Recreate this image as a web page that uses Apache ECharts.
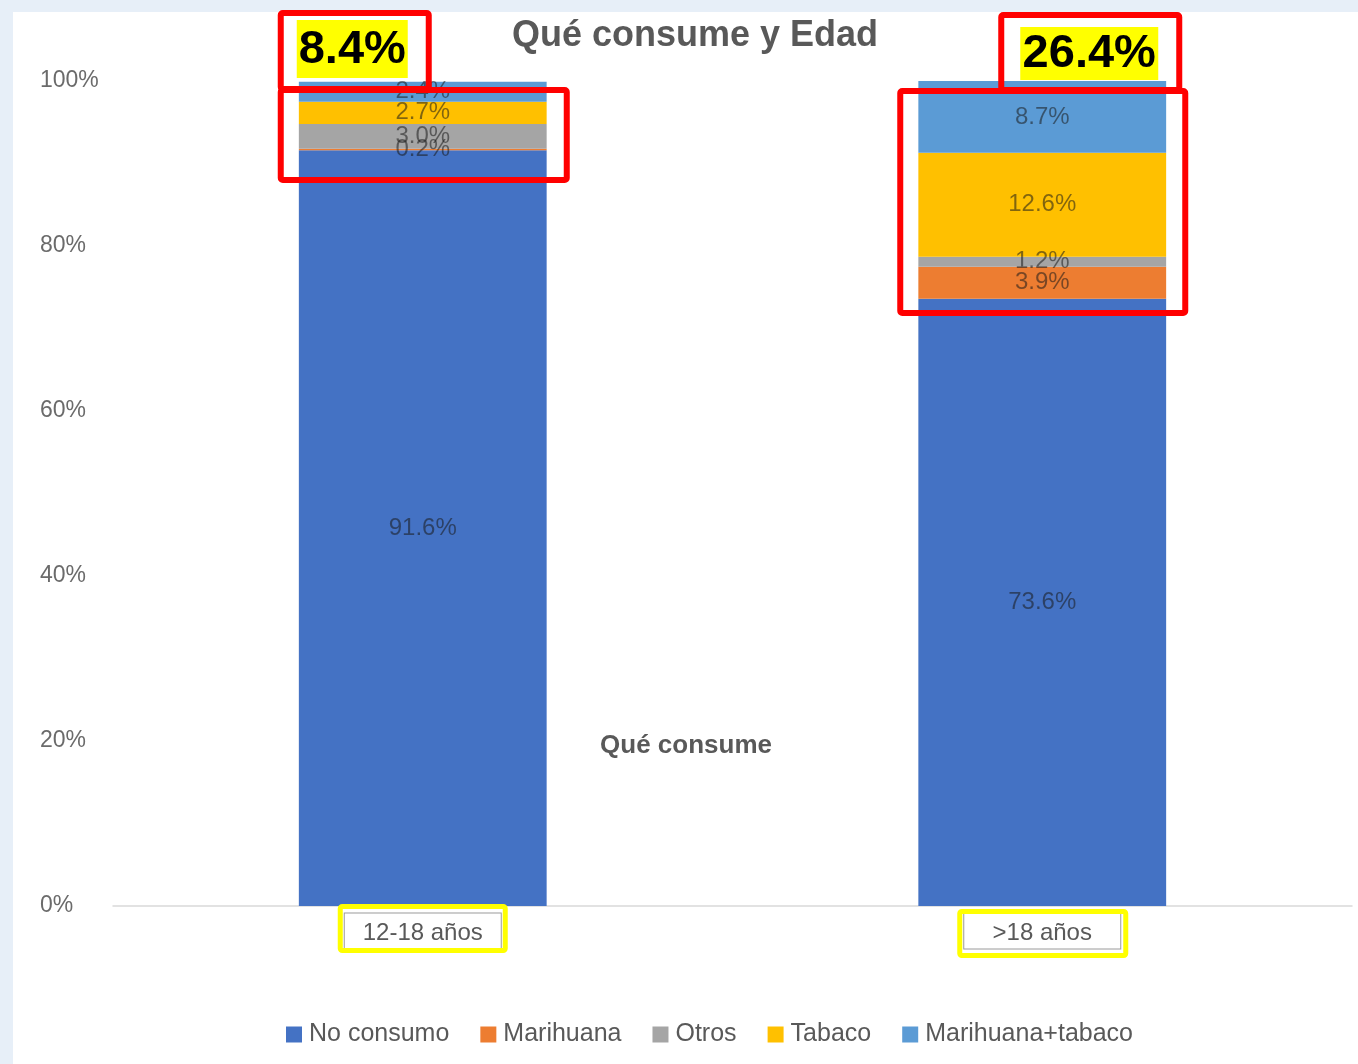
<!DOCTYPE html>
<html><head><meta charset="utf-8">
<script src="https://cdn.jsdelivr.net/npm/echarts@6/dist/echarts.min.js"></script>
<style>html,body{margin:0;padding:0;background:#e7eff8;} #c{width:1358px;height:1064px;}</style>
</head><body><div id="c"></div>
<script>
// ---- data ----
const categories = ['12-18 años', '>18 años'];
const seriesNames = ['No consumo', 'Marihuana', 'Otros', 'Tabaco', 'Marihuana+tabaco'];
const noConsumo = [91.6, 73.6];
const marihuana = [0.2, 3.9];
const otros = [3.0, 1.2];
const tabaco = [2.7, 12.6];
const marihuanaTabaco = [2.4, 8.7];
const consumeTotals = ['8.4%', '26.4%'];
const yTickMin = 0, yTickMax = 100, yTickStep = 20;
const titleText = 'Qué consume y Edad';
const axisTitleText = 'Qué consume';

// ---- style ----
const colors = ['#4472C4', '#ED7D31', '#A5A5A5', '#FFC000', '#5B9BD5'];
const FONT = '"Liberation Sans", Arial, sans-serif';
const seriesValues = [noConsumo, marihuana, otros, tabaco, marihuanaTabaco];

const chart = echarts.init(document.getElementById('c'), null, {renderer: 'canvas'});
chart.setOption({
  backgroundColor: '#e7eff8',
  animation: false,
  title: [
    {text: titleText, left: 695, top: 18, textAlign: 'center', padding: 0,
     textStyle: {fontFamily: FONT, fontSize: 36, fontWeight: 'bold', color: '#595959'}},
    {text: axisTitleText, left: 686, top: 733, textAlign: 'center', padding: 0,
     textStyle: {fontFamily: FONT, fontSize: 26, fontWeight: 'bold', color: '#595959'}}
  ],
  grid: {left: 113, right: 6, top: 81, bottom: 158, containLabel: false},
  legend: {
    data: seriesNames, left: 281, top: 1017, itemWidth: 16, itemHeight: 16, itemGap: 31,
    icon: 'rect',
    textStyle: {fontFamily: FONT, fontSize: 25, color: '#595959', padding: [0, 0, 0, 2]}
  },
  xAxis: {
    type: 'category', data: categories,
    axisLine: {lineStyle: {color: '#d9d9d9', width: 1.5}},
    axisTick: {show: false},
    axisLabel: {
      margin: 13,
      formatter: v => '{b|' + v + '}',
      rich: {b: {fontFamily: FONT, fontSize: 24, color: '#595959', width: 122, align: 'center',
        backgroundColor: '#fff', borderColor: '#9a9a9a', borderWidth: 1, padding: [8, 17, 3, 17], lineHeight: 24}}
    }
  },
  yAxis: {
    type: 'value', min: yTickMin, max: yTickMax, interval: yTickStep,
    axisLine: {show: false}, axisTick: {show: false}, splitLine: {show: false},
    axisLabel: {formatter: v => v + '%', align: 'left', margin: 73, padding: [5, 0, 0, 0],
      fontFamily: FONT, fontSize: 23, color: '#6b6b6b'}
  },
  series: seriesNames.map((name, i) => ({
    name, type: 'bar', stack: 'total', barWidth: '40%',
    itemStyle: {color: colors[i]},
    label: {show: true, position: 'inside', formatter: p => p.value.toFixed(1) + '%',
      fontFamily: FONT, fontSize: 24, color: 'rgba(25,25,25,0.55)'},
    data: seriesValues[i]
  }))
});

// ---- annotations placed from the axis scales ----
function px(ci, v) { return chart.convertToPixel({gridIndex: 0}, [ci, v]); }
const redTop = [[-145, 9, -71, 11], [-44, 140, -69, 12]];      // [dx0, dx1, dy0, dy1] vs (bar centre, 100%)
const redSeg = [[-145, 147, 6, 102], [-145, 146, 7, 235]];
const yellowTot = [[-126, -15, -61, -3], [-22, 116, -54, -1]];
const yellowCat = [[-85, 85, -2, 47], [-85, 86, 3, 52]];        // vs (bar centre, 0%)
const graphics = [];
const [panelX, panelY] = [13, 12];
graphics.push({type: 'rect', z: -10, silent: true,
  shape: {x: panelX, y: panelY, width: 1358 - panelX, height: 1064 - panelY},
  style: {fill: '#ffffff'}});
const LW = 6;
function strokeBox(x0, x1, y0, y1, color, lw) {
  graphics.push({type: 'rect', z: 100, silent: true,
    shape: {x: x0 + lw / 2, y: y0 + lw / 2, width: x1 - x0 - lw, height: y1 - y0 - lw, r: 2},
    style: {fill: 'none', stroke: color, lineWidth: lw}});
}
categories.forEach((c, i) => {
  const top = px(i, yTickMax), bot = px(i, yTickMin);
  const cx = top[0], y100 = top[1], y0 = bot[1];
  let b = redTop[i]; strokeBox(cx + b[0], cx + b[1], y100 + b[2], y100 + b[3], '#ff0000', LW);
  b = redSeg[i]; strokeBox(cx + b[0], cx + b[1], y100 + b[2], y100 + b[3], '#ff0000', LW);
  b = yellowCat[i]; strokeBox(cx + b[0], cx + b[1], y0 + b[2], y0 + b[3], '#ffff00', 5);
  b = yellowTot[i];
  graphics.push({type: 'rect', z: 101, silent: true,
    shape: {x: cx + b[0], y: y100 + b[2], width: b[1] - b[0], height: b[3] - b[2]},
    style: {fill: '#ffff00'}});
  graphics.push({type: 'text', z: 102, silent: true,
    style: {text: consumeTotals[i], x: cx + (b[0] + b[1]) / 2, y: y100 + (b[2] + b[3]) / 2 + 1,
      align: 'center', verticalAlign: 'middle', font: 'bold 47px ' + FONT, fill: '#000'}});
});
chart.setOption({graphic: graphics});
</script>
</body></html>
